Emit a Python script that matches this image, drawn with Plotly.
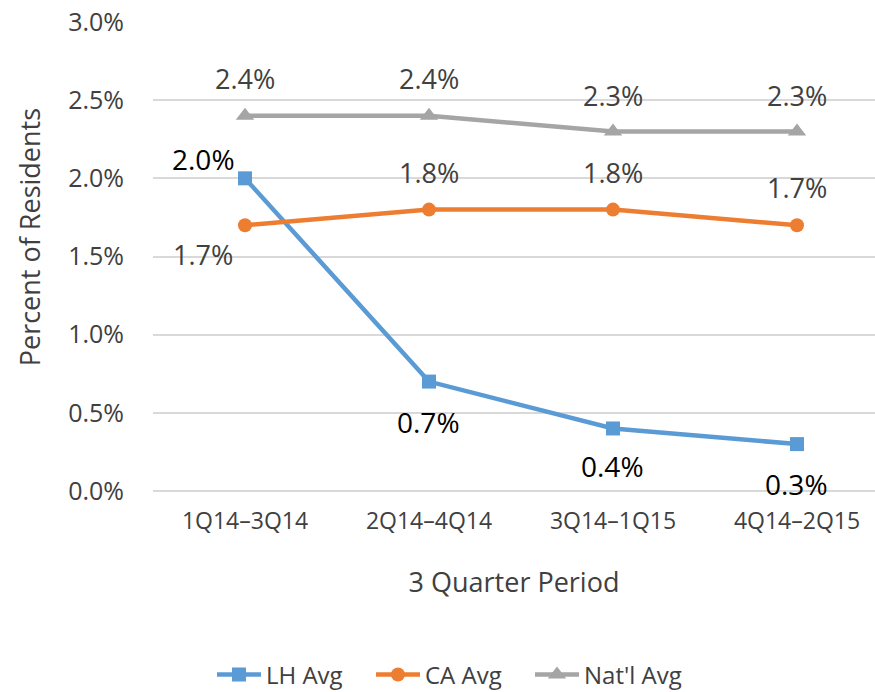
import plotly.graph_objects as go

categories = ["1Q14–3Q14", "2Q14–4Q14", "3Q14–1Q15", "4Q14–2Q15"]
lh_avg = [0.020, 0.007, 0.004, 0.003]
ca_avg = [0.017, 0.018, 0.018, 0.017]
natl_avg = [0.024, 0.024, 0.023, 0.023]
y_ticks = [0.0, 0.005, 0.010, 0.015, 0.020, 0.025, 0.030]

FONT = "Open Sans"
GREY_TXT = "#404040"
x_idx = list(range(len(categories)))

def fmt(v):
    return f"{v*100:.1f}%"

series = [
    dict(name="LH Avg", y=lh_avg, color="#5B9BD5", symbol="square", msize=14,
         shifts=[(-42, 19), (0, -40), (0, -38), (0, -40)], tcolor="#000000", tsize=28),
    dict(name="CA Avg", y=ca_avg, color="#ED7D31", symbol="circle", msize=14,
         shifts=[(-42, -29), (0, 37), (0, 37), (0, 38)], tcolor=GREY_TXT, tsize=27),
    dict(name="Nat'l Avg", y=natl_avg, color="#A5A5A5", symbol="triangle-up", msize=16,
         shifts=[(0, 37), (0, 37), (0, 36), (0, 36)], tcolor=GREY_TXT, tsize=27),
]

fig = go.Figure()
annotations = []
for s in series:
    fig.add_trace(go.Scatter(
        x=x_idx, y=s["y"], name=s["name"], mode="lines+markers",
        line=dict(color=s["color"], width=4.5),
        marker=dict(symbol=s["symbol"], size=s["msize"], color=s["color"]),
        cliponaxis=False,
    ))
    for xi, v, (dx, dy) in zip(x_idx, s["y"], s["shifts"]):
        annotations.append(dict(
            x=xi, y=v, xref="x", yref="y", text=fmt(v), showarrow=False,
            xanchor="center", yanchor="middle", xshift=dx, yshift=dy,
            font=dict(family=FONT, size=s["tsize"], color=s["tcolor"]),
        ))

# y-axis title as a rotated annotation
annotations.append(dict(
    text="Percent of Residents", xref="paper", yref="paper",
    x=-0.170, y=0.5416, xanchor="center", yanchor="middle", textangle=-90,
    showarrow=False, font=dict(family=FONT, size=27, color=GREY_TXT),
))

fig.update_layout(
    width=875, height=692,
    margin=dict(l=153, r=0, t=22, b=201, autoexpand=False),
    paper_bgcolor="white", plot_bgcolor="white",
    font=dict(family=FONT, color=GREY_TXT),
    showlegend=True,
    annotations=annotations,
    legend=dict(orientation="h", x=0.0817, xanchor="left", y=-0.392, yanchor="middle",
                font=dict(family=FONT, size=24, color=GREY_TXT),
                entrywidth=100, entrywidthmode="pixels", itemwidth=44),
    xaxis=dict(
        range=[-0.5, 3.424], tickmode="array", tickvals=x_idx, ticktext=categories,
        showgrid=False, zeroline=False, showline=False, ticks="",
        tickfont=dict(family=FONT, size=23, color=GREY_TXT),
        ticklabelstandoff=14,
        title=dict(text="3 Quarter Period", font=dict(family=FONT, size=27, color=GREY_TXT), standoff=38),
    ),
    yaxis=dict(
        range=[0, 0.030], tickmode="array", tickvals=y_ticks,
        ticktext=[f"{v*100:.1f}%" for v in y_ticks],
        showgrid=True, gridcolor="#D9D9D9", gridwidth=1.5,
        zeroline=True, zerolinecolor="#D9D9D9", zerolinewidth=1.5,
        showline=False, ticks="",
        tickfont=dict(family=FONT, size=25, color=GREY_TXT),
        ticklabelstandoff=28,
    ),
)

fig.write_html("out.html",
               config={"displayModeBar": False},
               post_script="document.body.style.margin='0';document.body.style.overflow='hidden';")
